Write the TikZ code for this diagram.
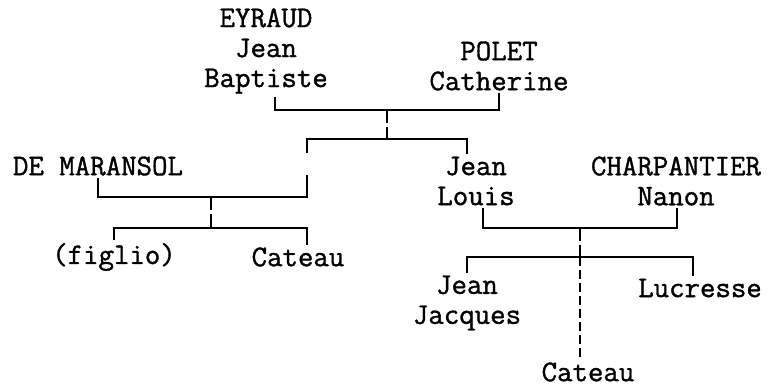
\documentclass[tikz,border=0pt]{standalone}
\usepackage{fontspec}
\newfontfamily\treefont[FakeBold=1.2]{Latin Modern Mono}
\usetikzlibrary{calc}

\begin{document}
\begin{tikzpicture}[x=1pt, y=-1pt, line width=1.6pt]
    \tikzstyle{person} = [align=center, inner sep=2pt, font=\treefont\fontsize{30}{30}\selectfont]
    \tikzstyle{bar} = [draw, line cap=butt]
    \tikzstyle{drop} = [draw, dash pattern=on 13pt off 4pt on 40pt]
    \tikzstyle{uncertain} = [draw, dash pattern=on 9pt off 4pt]

    \useasboundingbox (0,0) rectangle (768,388);

    % first generation
    \node [person] (eyraud) at (266,51) {EYRAUD\\Jean\\Baptiste};
    \node [person] (polet) at (499,66) {POLET\\Catherine};

    % second generation
    \node [person] (maransol) at (98,166) {DE MARANSOL};
    \node [person] (jeanlouis) at (476,181) {Jean\\Louis};
    \node [person] (charpantier) at (676,181) {CHARPANTIER\\Nanon};

    % third generation
    \node [person] (figlio) at (114,257) {(figlio)};
    \node [person] (cateau1) at (298,257) {Cateau};
    \node [person] (jeanjacques) at (467,303) {Jean\\Jacques};
    \node [person] (lucresse) at (700,288) {Lucresse};
    \node [person] (cateau2) at (588,372) {Cateau};

    % junctions
    \coordinate (m1) at (387,110);
    \coordinate (s1) at (387,139);
    \coordinate (spouse) at (307,153);
    \coordinate (spouseb) at (307,175);
    \coordinate (m2) at (211,197);
    \coordinate (s2) at (211,228);
    \coordinate (m3) at (580,228);
    \coordinate (s3) at (580,257);

    % EYRAUD x POLET
    \path [bar] ([xshift=9pt]eyraud.south) |- (m1) -| (polet.south);
    \path [drop] (m1) -- (s1);
    \path [bar] (spouse) |- (s1) -| ([xshift=-9pt]jeanlouis.north);

    % DE MARANSOL
    \path [bar] (maransol.south) |- (m2) -| (spouseb);
    \path [drop] (m2) -- (s2);
    \path [bar] (figlio.north) |- (s2) -| ([xshift=9pt]cateau1.north);

    % Jean Louis x CHARPANTIER
    \path [bar] ([xshift=7pt]jeanlouis.south) |- (m3) -| ([xshift=1pt]charpantier.south);
    \path [drop] (m3) -- (s3);
    \path [bar] (jeanjacques.north) |- (s3) -| ([xshift=-7pt]lucresse.north);
    \path [uncertain] (s3) -- ([xshift=-8pt]cateau2.north);
\end{tikzpicture}
\end{document}
